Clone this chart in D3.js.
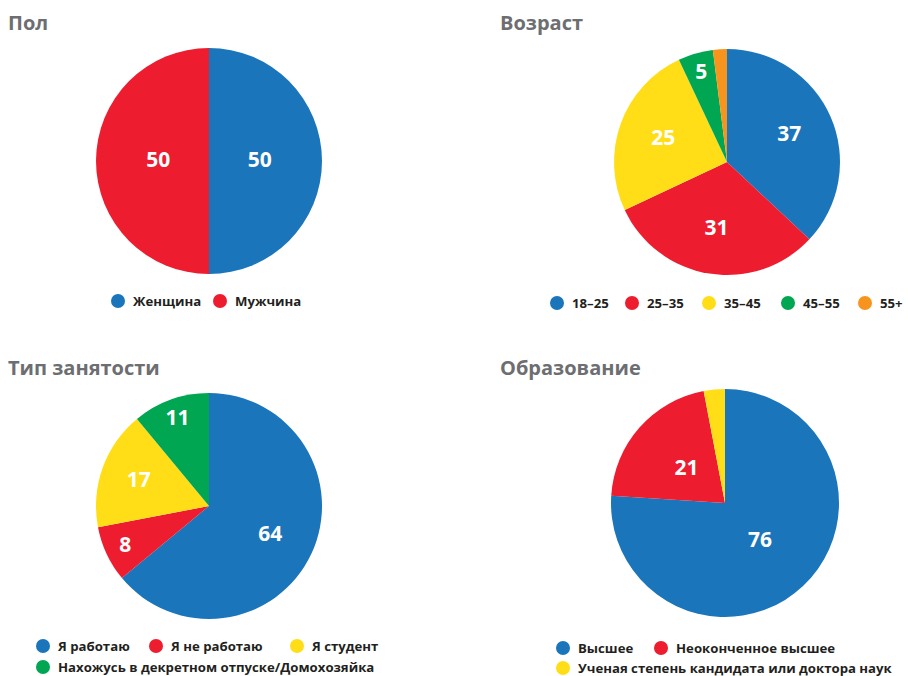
<!DOCTYPE html>
<html>
<head>
<meta charset="utf-8">
<script src="https://cdn.jsdelivr.net/npm/d3@7"></script>
<style>
  body { margin: 0; background: #fff; }
  svg { font-family: "Open Sans", "Noto Sans", sans-serif; }
</style>
</head>
<body>
<svg id="chart" width="908" height="676"></svg>
<script>
// data
var genderLabels = ["Женщина", "Мужчина"];
var genderValues = [50, 50];

var ageLabels = ["18–25", "25–35", "35–45", "45–55", "55+"];
var ageValues = [37, 31, 25, 5, 2];

var jobLabels = ["Я работаю", "Я не работаю", "Я студент", "Нахожусь в декретном отпуске/Домохозяйка"];
var jobValues = [64, 8, 17, 11];

var eduLabels = ["Высшее", "Неоконченное высшее", "Ученая степень кандидата или доктора наук"];
var eduValues = [76, 21, 3];

var colors = ["#1b75bb", "#ed1c2e", "#ffde17", "#00a651", "#f7941d"];

var svg = d3.select("#chart");

function drawPie(opt) {
    var g = svg.append("g");

    g.append("text")
        .attr("x", opt.titleX)
        .attr("y", opt.titleY)
        .attr("font-size", 20)
        .attr("font-weight", "bold")
        .attr("fill", "#6d6e71")
        .text(opt.title);

    var pie = d3.pie().sort(null).value(function (d) { return d; });
    var arcs = pie(opt.values);
    var arc = d3.arc().innerRadius(0).outerRadius(opt.r);

    var pg = g.append("g")
        .attr("transform", "translate(" + opt.cx + "," + opt.cy + ")");

    pg.selectAll("path")
        .data(arcs)
        .enter()
        .append("path")
        .attr("d", arc)
        .attr("fill", function (d, i) { return colors[i]; });

    pg.selectAll("text")
        .data(arcs)
        .enter()
        .filter(function (d) { return d.value >= 4; })
        .append("text")
        .attr("transform", function (d) {
            var k = d.value < 12 ? 0.82 : (d.value < 20 ? 0.66 : opt.labelK);
            var a = (d.startAngle + d.endAngle) / 2;
            return "translate(" + (Math.sin(a) * opt.r * k) + "," + (-Math.cos(a) * opt.r * k) + ")";
        })
        .attr("text-anchor", "middle")
        .attr("dy", "0.3em")
        .attr("font-size", 21)
        .attr("font-weight", "bold")
        .attr("fill", "white")
        .text(function (d) { return d.value; });

    // legend
    var lg = g.append("g");
    opt.labels.forEach(function (name, i) {
        var p = opt.legendPos[i];
        lg.append("circle")
            .attr("cx", p[0])
            .attr("cy", p[1])
            .attr("r", 7)
            .attr("fill", colors[i]);
        lg.append("text")
            .attr("x", p[0] + 15)
            .attr("y", p[1] + 5)
            .attr("font-size", 13.2)
            .attr("font-weight", "bold")
            .attr("fill", "#231f20")
            .text(name);
    });
}

drawPie({
    title: "Пол", titleX: 8, titleY: 30,
    cx: 209, cy: 161, r: 113, labelK: 0.45,
    values: genderValues, labels: genderLabels,
    legendPos: [[118, 301], [220, 301]]
});

drawPie({
    title: "Возраст", titleX: 500, titleY: 30,
    cx: 727, cy: 162, r: 113, labelK: 0.6,
    values: ageValues, labels: ageLabels,
    legendPos: [[557, 303], [632, 303], [709, 303], [788, 303], [865, 303]]
});

drawPie({
    title: "Тип занятости", titleX: 8, titleY: 375,
    cx: 209, cy: 506, r: 113, labelK: 0.6,
    values: jobValues, labels: jobLabels,
    legendPos: [[43, 646], [156, 646], [297, 646], [43, 667]]
});

drawPie({
    title: "Образование", titleX: 500, titleY: 375,
    cx: 725, cy: 503, r: 114, labelK: 0.45,
    values: eduValues, labels: eduLabels,
    legendPos: [[563, 648], [661, 648], [563, 668]]
});
</script>
</body>
</html>
